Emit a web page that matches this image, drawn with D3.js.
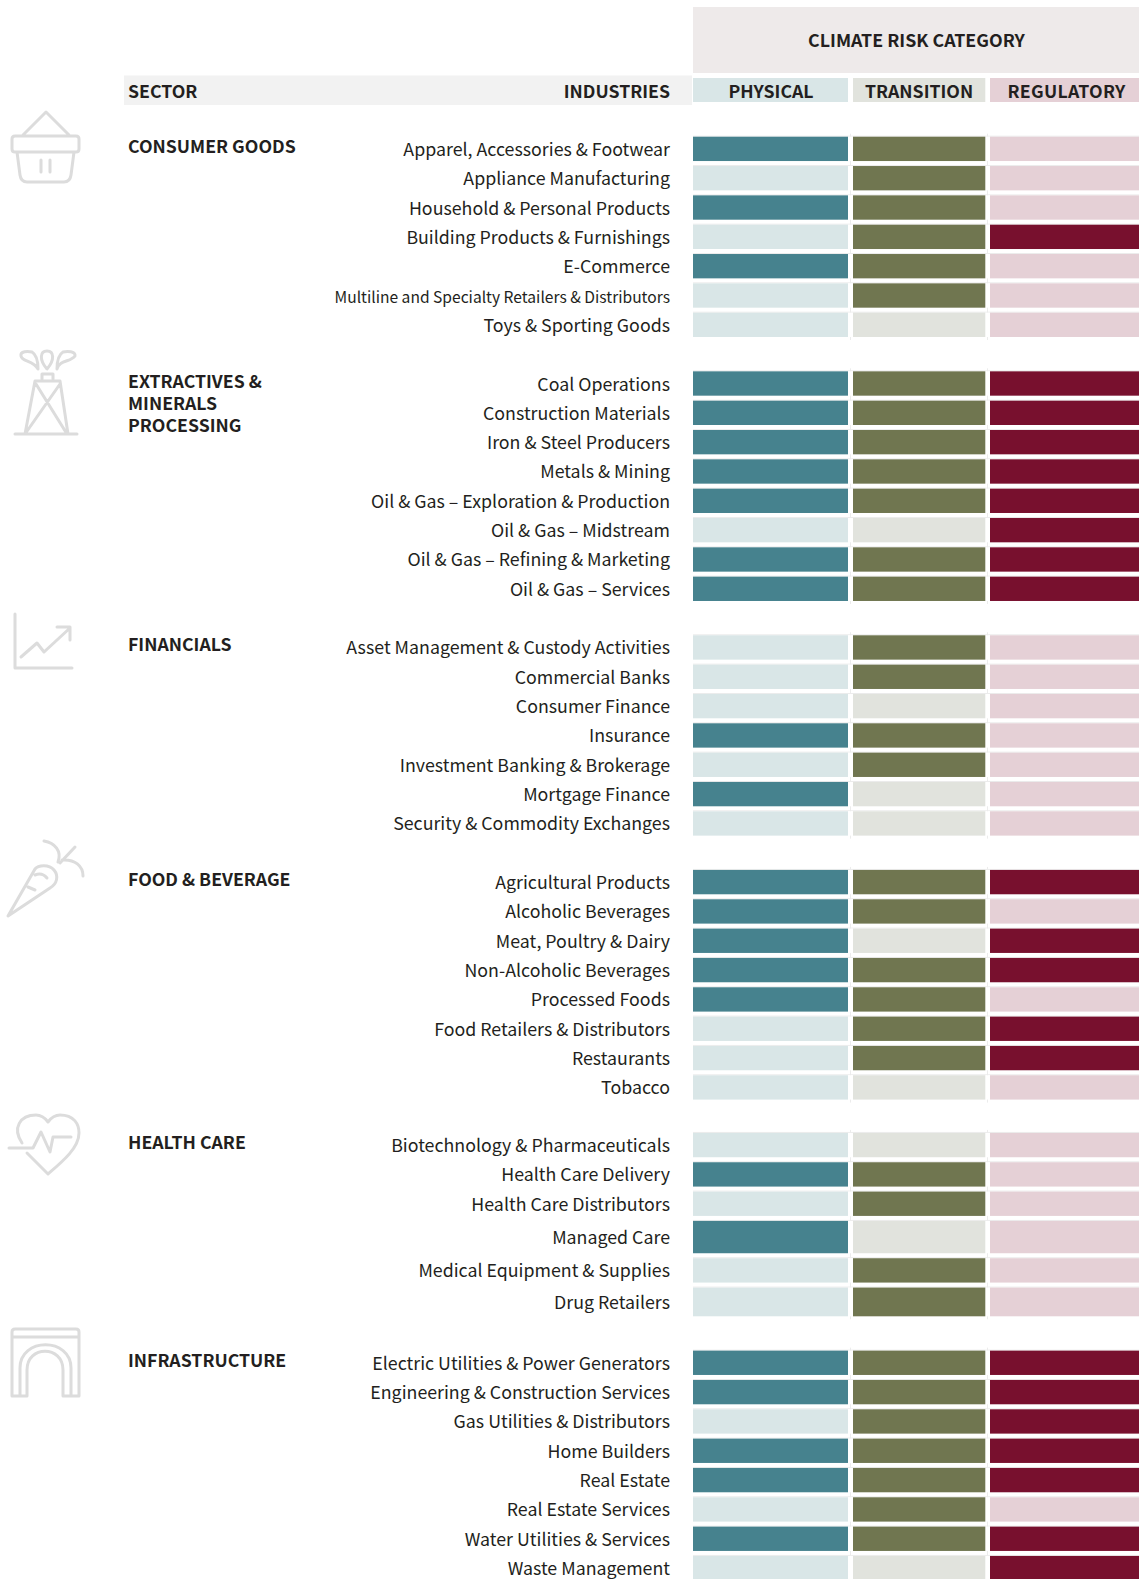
<!DOCTYPE html>
<html><head><meta charset="utf-8">
<script src="https://cdn.jsdelivr.net/npm/d3@7/dist/d3.min.js"></script>
<style>html,body{margin:0;padding:0;background:#fff;overflow:hidden}svg{display:block}text{font-family:"Noto Sans CJK SC","Noto Sans",sans-serif;fill:#231f20}</style>
</head><body><div id="chart"></div>
<script>
const categories = ["PHYSICAL","TRANSITION","REGULATORY"];
const sectors = ["CONSUMER GOODS","EXTRACTIVES & MINERALS PROCESSING","FINANCIALS","FOOD & BEVERAGE","HEALTH CARE","INFRASTRUCTURE"];
const consumerGoods = ["Apparel, Accessories & Footwear","Appliance Manufacturing","Household & Personal Products","Building Products & Furnishings","E-Commerce","Multiline and Specialty Retailers & Distributors","Toys & Sporting Goods"];
const consumerGoodsRisk = ["110","010","110","011","110","010","000"];
const extractives = ["Coal Operations","Construction Materials","Iron & Steel Producers","Metals & Mining","Oil & Gas – Exploration & Production","Oil & Gas – Midstream","Oil & Gas – Refining & Marketing","Oil & Gas – Services"];
const extractivesRisk = ["111","111","111","111","111","001","111","111"];
const financials = ["Asset Management & Custody Activities","Commercial Banks","Consumer Finance","Insurance","Investment Banking & Brokerage","Mortgage Finance","Security & Commodity Exchanges"];
const financialsRisk = ["010","010","000","110","010","100","000"];
const foodBeverage = ["Agricultural Products","Alcoholic Beverages","Meat, Poultry & Dairy","Non-Alcoholic Beverages","Processed Foods","Food Retailers & Distributors","Restaurants","Tobacco"];
const foodBeverageRisk = ["111","110","101","111","110","011","011","000"];
const healthCare = ["Biotechnology & Pharmaceuticals","Health Care Delivery","Health Care Distributors","Managed Care","Medical Equipment & Supplies","Drug Retailers"];
const healthCareRisk = ["000","110","010","100","010","010"];
const infrastructure = ["Electric Utilities & Power Generators","Engineering & Construction Services","Gas Utilities & Distributors","Home Builders","Real Estate","Real Estate Services","Water Utilities & Services","Waste Management"];
const infrastructureRisk = ["111","111","011","111","111","010","111","001"];

const sectorRows = [consumerGoods,extractives,financials,foodBeverage,healthCare,infrastructure];
const sectorRisk = [consumerGoodsRisk,extractivesRisk,financialsRisk,foodBeverageRisk,healthCareRisk,infrastructureRisk];

// layout (separate from the data)
const W=1140,H=1579;
const colLeft=d3.scaleOrdinal(categories,[693,853,990]);
const colRight=d3.scaleOrdinal(categories,[848,985.3,1139]);
const high=d3.scaleOrdinal(categories,["#46828e","#707650","#78102e"]);
const low=d3.scaleOrdinal(categories,["#d9e6e7","#e1e3dd","#e5d0d6"]);
const y=d3.scaleLinear().domain([0,1]).range([136.7,166.03]);
const pitch=y(1)-y(0), barGap=5;
const tallRows=new Map([["Managed Care",8],["Drug Retailers",4.4]]);
const sectorNudge=[0,0,0,0,-1,0];
const sectorLines=[["CONSUMER GOODS"],["EXTRACTIVES &","MINERALS","PROCESSING"],["FINANCIALS"],["FOOD & BEVERAGE"],["HEALTH CARE"],["INFRASTRUCTURE"]];
const sectorBase=[16.6,16.6,15.8,16,16.2,16.3];
const labelSize=17.8, headSize=17.7;

const rows=[], heads=[];
let slot=0, extra=0;
sectorRows.forEach((names,s)=>{
  extra+=sectorNudge[s];
  heads.push({s,top:y(slot)+extra});
  names.forEach((name,i)=>{
    const e=tallRows.get(name)||0;
    rows.push({name,risk:sectorRisk[s][i],top:y(slot)+extra,h:pitch-barGap+e,last:i===names.length-1});
    slot+=1; extra+=e;
  });
  slot+=1;
});

const svg=d3.select("#chart").append("svg").attr("width",W).attr("height",H).attr("viewBox",`0 0 ${W} ${H}`);

// header
svg.append("rect").attr("x",693).attr("y",7).attr("width",446).attr("height",66).attr("fill","#eeeaea");
svg.append("rect").attr("x",124).attr("y",75.5).attr("width",568).attr("height",29.5).attr("fill","#f2f2f2");
svg.append("text").attr("x",916.5).attr("y",47).attr("text-anchor","middle").attr("font-size",headSize+.1).attr("font-weight",700).text("CLIMATE RISK CATEGORY");
svg.append("text").attr("x",128).attr("y",98.3).attr("font-size",headSize).attr("font-weight",700).text("SECTOR");
svg.append("text").attr("x",670).attr("y",98.3).attr("text-anchor","end").attr("font-size",headSize).attr("font-weight",700).text("INDUSTRIES");
const hd=svg.selectAll("g.hd").data(categories).join("g").attr("class","hd");
hd.append("rect").attr("x",d=>colLeft(d)).attr("y",78).attr("width",d=>colRight(d)-colLeft(d)).attr("height",24).attr("fill",d=>low(d));
hd.append("text").attr("x",d=>(colLeft(d)+colRight(d))/2+(d==="PHYSICAL"?.5:d==="REGULATORY"?2:0)).attr("y",98.3)
  .attr("text-anchor","middle").attr("font-size",headSize).attr("font-weight",700)
  .attr("letter-spacing",d=>d==="REGULATORY"?.3:0).text(d=>d);

// faint hairlines in the gaps between rows
const hair=svg.append("g").attr("stroke","#ececec").attr("stroke-width",1);
hair.selectAll("line.h").data(rows).join("line").attr("class","h")
  .attr("x1",693).attr("x2",1139).attr("y1",r=>r.top-.5).attr("y2",r=>r.top-.5);
[850.5,987.5].forEach(xp=>{
  hair.selectAll(null).data(rows).join("line")
    .attr("x1",xp).attr("x2",xp).attr("y1",r=>r.top-3).attr("y2",r=>r.top+r.h+(r.last?3:barGap));
});
svg.append("g").selectAll("rect").data(rows).join("rect").attr("fill","#fff")
  .attr("x",848).attr("width",5).attr("y",r=>r.top).attr("height",r=>r.h);
svg.append("g").selectAll("rect").data(rows).join("rect").attr("fill","#fff")
  .attr("x",985.3).attr("width",4.7).attr("y",r=>r.top).attr("height",r=>r.h);

// cells
svg.append("g").selectAll("g").data(rows).join("g").each(function(r){
  d3.select(this).selectAll("rect").data(categories.map((c,i)=>({c,v:r.risk[i]==="1"}))).join("rect")
    .attr("x",d=>colLeft(d.c)).attr("width",d=>colRight(d.c)-colLeft(d.c))
    .attr("y",r.top).attr("height",r.h)
    .attr("fill",d=>d.v?high(d.c):low(d.c));
});
// industry labels
svg.append("g").selectAll("text").data(rows).join("text")
  .attr("x",670).attr("y",r=>r.top+r.h/2+7)
  .attr("text-anchor","end")
  .attr("font-size",r=>r.name.startsWith("Multiline")?15.6:labelSize).text(r=>r.name);
// sector labels
const sl=svg.append("g").selectAll("text").data(heads).join("text").attr("font-size",headSize).attr("font-weight",700);
sl.each(function(h){
  d3.select(this).selectAll("tspan").data(sectorLines[h.s]).join("tspan")
    .attr("x",128).attr("y",(d,i)=>h.top+sectorBase[h.s]+i*22).text(d=>d);
});

// icons
const icons=[
 "M23 135L46 112L69 135M15 136H76Q79 136 79 139V149Q79 152 76 152H15Q12 152 12 149V139Q12 136 15 136ZM17 152L20 175Q21 182 27 182H64Q70 182 71 175L74 152M41 160V172M50 160V172",
 "M15 434H77M25 434L35 381H60L68 434M36 384L67 434M60 384L25 434M42 379V374H53V379M47 369C39 360 40 351 47 351C54 351 55 360 47 369ZM38 369C33 360 22 362 21 356C20 351 28 351 32 352C37 355 38 362 38 369ZM57 369C59 360 71 362 75 356C76 351 67 351 63 352C58 355 57 362 57 369Z",
 "M15 614V668H72M21 657L37 643L44 652L70 628M57 627H70V640",
 "M8 916L35 869C38 865 49 864 54 870C59 876 57 884 50 888ZM44 841C55 843 62 851 58 862M75 847L60 863M62 860C75 859 83 866 83 876M35 875Q42 872 47 878M28 887L35 890",
 "M9 1148H33L41 1132L50 1152L53 1137H71M22 1143C12 1128 20 1115 36 1115C41 1115 45 1118 48 1122C51 1118 55 1115 60 1115C74 1115 79 1124 79 1133C79 1148 62 1162 48 1174L27 1153",
 "M12 1396V1332Q12 1329 15 1329H76Q79 1329 79 1332V1396H63V1370C63 1345 27 1345 27 1370V1396H12ZM12 1337H79M20 1396V1368C20 1337 71 1337 71 1368V1396"
];
svg.append("g").selectAll("path").data(icons).join("path").attr("d",d=>d)
  .attr("fill","none").attr("stroke","#dcdcdc").attr("stroke-width",3).attr("stroke-linecap","round").attr("stroke-linejoin","round");
</script></body></html>
